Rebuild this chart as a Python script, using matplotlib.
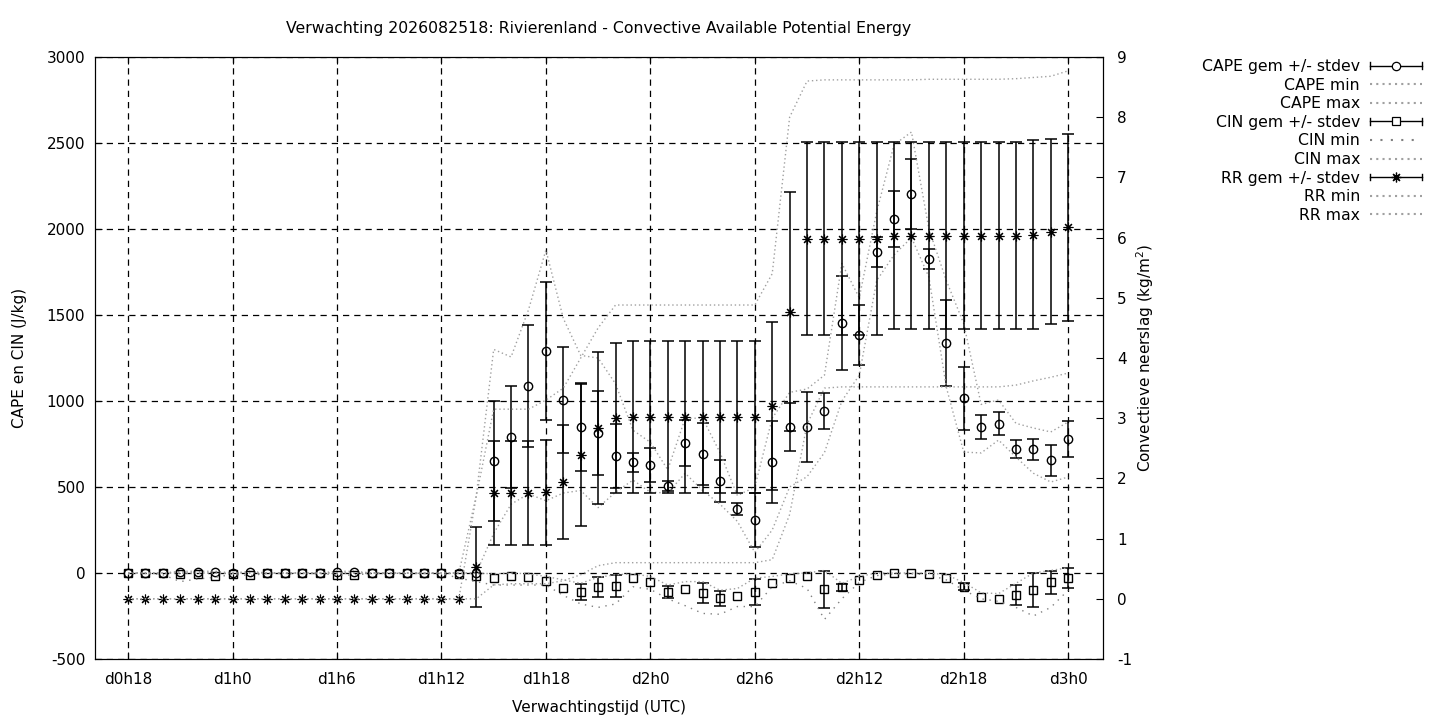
import numpy as np
import matplotlib
matplotlib.use("Agg")
import matplotlib.pyplot as plt
from matplotlib.lines import Line2D
from matplotlib.legend_handler import HandlerBase

# forecast hours since d0h18
hours = np.arange(55)
tick_hours = [0, 6, 12, 18, 24, 30, 36, 42, 48, 54]
tick_names = ["d0h18", "d1h0", "d1h6", "d1h12", "d1h18", "d2h0", "d2h6", "d2h12", "d2h18", "d3h0"]

cape_mean = [0, 0, 0, 5, 5, 5, 0, 5, 0, 0, 0, 0, 5, 5, 0, 0, 0, 0, 0, 0,
             0, 650, 790, 1087, 1291, 1006, 849, 814, 680, 645, 628, 506, 756, 692, 535,
             372, 308, 645, 849, 849, 942, 1453, 1384, 1866, 2058, 2204, 1826, 1336, 1016,
             847, 869, 719, 719, 655, 777]
cape_sd = [0, 0, 0, 0, 0, 0, 0, 0, 0, 0, 0, 0, 0, 0, 0, 0, 0, 0, 0, 0,
           0, 350, 297, 355, 400, 308, 258, 245, 186, 55, 100, 30, 135, 183, 120,
           37, 155, 238, 137, 206, 103, 275, 174, 87, 163, 203, 58, 250, 182,
           69, 66, 53, 62, 90, 104]
cape_min = [0, 0, 0, 0, 0, 0, 0, 0, 0, 0, 0, 0, 0, 0, 0, 0, 0, 0, 0, 0,
            0, 230, 400, 460, 420, 465, 480, 380, 470, 540, 470, 465, 580, 480, 400,
            300, 120, 250, 500, 560, 700, 1000, 1150, 1700, 1850, 1950, 1720, 1080, 703,
            698, 773, 674, 580, 529, 558]
cape_max = [0, 0, 0, 10, 10, 10, 0, 10, 0, 0, 0, 0, 10, 10, 0, 0, 0, 0, 0, 0,
            450, 1300, 1256, 1530, 1878, 1480, 1265, 1250, 1100, 830, 760, 600, 900, 900, 700,
            450, 500, 900, 1050, 1070, 1150, 1800, 1600, 2100, 2490, 2564, 2000, 1700, 1450,
            980, 1006, 870, 843, 820, 878]

cin_mean = [-2, -2, -2, -8, -6, -16, -8, -12, -2, -2, -2, -2, -10, -10, -2, -2, -2, -2, -2, -6,
            -17, -29, -17, -25, -48, -89, -112, -83, -76, -31, -54, -112, -95, -118, -147,
            -134, -112, -60, -31, -17, -95, -83, -41, -12, -2, -2, -8, -31, -80,
            -141, -153, -128, -99, -54, -31]
cin_sd = [0, 0, 0, 0, 0, 0, 0, 0, 0, 0, 0, 0, 0, 0, 0, 0, 0, 0, 0, 0,
          0, 0, 0, 0, 0, 0, 47, 58, 65, 0, 0, 35, 0, 58, 42,
          0, 75, 0, 0, 0, 107, 20, 0, 0, 0, 0, 0, 0, 20,
          0, 0, 58, 99, 68, 58]
cin_min = [-2, -2, -10, -50, -35, -25, -8, -15, -2, -2, -2, -2, -12, -12, -2, -2, -2, -2, -2, -30,
           -50, -70, -70, -70, -70, -130, -180, -200, -180, -80, -95, -150, -190, -235, -240,
           -195, -195, -80, -45, -90, -270, -150, -55, -15, -5, -5, -10, -40, -100,
           -150, -165, -200, -250, -200, -100]
cin_max = [0, 0, 0, 0, 0, 0, 0, 0, 0, 0, 0, 0, 0, 0, 0, 0, 0, 0, 0, 0,
           0, -5, 0, -5, -20, -40, -60, -25, -10, -5, -20, -70, -50, -50, -100,
           -90, -30, -20, -5, 0, 15, -60, -20, 0, 0, 0, 0, -10, -55,
           -115, -120, -60, 0, 15, 30]

rr_mean = [0, 0, 0, 0, 0, 0, 0, 0, 0, 0, 0, 0, 0, 0, 0, 0, 0, 0, 0, 0,
           0.53, 1.76, 1.76, 1.76, 1.77, 1.94, 2.39, 2.84, 3.0, 3.02, 3.02, 3.02, 3.02, 3.02, 3.02,
           3.02, 3.02, 3.2, 4.77, 5.98, 5.98, 5.98, 5.98, 5.98, 6.03, 6.03, 6.03, 6.03, 6.03,
           6.03, 6.03, 6.03, 6.05, 6.1, 6.17]
rr_sd = [0, 0, 0, 0, 0, 0, 0, 0, 0, 0, 0, 0, 0, 0, 0, 0, 0, 0, 0, 0,
         0.66, 0.86, 0.86, 0.86, 0.87, 0.95, 1.18, 1.26, 1.25, 1.26, 1.26, 1.26, 1.26, 1.26, 1.26,
         1.26, 1.26, 1.4, 1.98, 1.6, 1.6, 1.6, 1.6, 1.6, 1.55, 1.55, 1.55, 1.55, 1.55,
         1.55, 1.55, 1.55, 1.57, 1.54, 1.55]
rr_min = [0, 0, 0, 0, 0, 0, 0, 0, 0, 0, 0, 0, 0, 0, 0, 0, 0, 0, 0, 0,
          0, 0.23, 0.25, 0.25, 0.25, 0.3, 0.4, 0.55, 0.6, 0.6, 0.6, 0.6, 0.6, 0.6, 0.6,
          0.6, 0.6, 0.65, 1.4, 2.9, 3.5, 3.52, 3.52, 3.52, 3.52, 3.52, 3.52, 3.52, 3.52,
          3.52, 3.52, 3.55, 3.62, 3.68, 3.75]
rr_max = [0, 0, 0, 0, 0, 0, 0, 0, 0, 0, 0, 0, 0, 0, 0, 0, 0, 0, 0, 0,
          1.7, 3.15, 3.15, 3.15, 3.3, 3.5, 4.0, 4.5, 4.88, 4.88, 4.88, 4.88, 4.88, 4.88, 4.88,
          4.88, 4.88, 5.4, 8.0, 8.6, 8.62, 8.62, 8.62, 8.62, 8.62, 8.62, 8.63, 8.63, 8.63,
          8.63, 8.63, 8.64, 8.66, 8.68, 8.77]

DOT = (0, (1, 2))
GREY = "#a0a0a0"


class HandlerErrbar(HandlerBase):
    # gnuplot style key sample: |--o--|
    def create_artists(self, legend, orig_handle, xdescent, ydescent,
                       width, height, fontsize, trans):
        y = height / 2 - ydescent
        x0, x1 = -xdescent, width - xdescent
        cap = height * 0.3
        parts = [
            Line2D([x0, x1], [y, y], color="black", lw=1),
            Line2D([x0, x0], [y - cap, y + cap], color="black", lw=1),
            Line2D([x1, x1], [y - cap, y + cap], color="black", lw=1),
            Line2D([(x0 + x1) / 2], [y], ls="none", marker=orig_handle.get_marker(),
                   ms=orig_handle.get_markersize(), mfc="white", mec="black", mew=0.9),
        ]
        for p in parts:
            p.set_transform(trans)
        return parts


def draw_mean(ax, mean, sd, marker, ms, mew=1):
    mean = np.array(mean)
    sd = np.array(sd)
    has = sd > 0
    ax.errorbar(hours[has], mean[has], yerr=sd[has], fmt="none", ecolor="black",
                elinewidth=1.1, capsize=4.2, capthick=1.1)
    ax.plot(hours, mean, ls="none", marker=marker, ms=ms, mfc="none", mec="black", mew=mew)


plt.rcParams["font.family"] = ["DejaVu Sans"]
plt.rcParams["font.size"] = 11
plt.rcParams["axes.unicode_minus"] = False

fig = plt.figure(figsize=(14.4, 7.2), dpi=100)
ax = fig.add_axes([95 / 1440, 1 - 659 / 720, 1008 / 1440, 602 / 720])
ax2 = ax.twinx()

draw_mean(ax, cape_mean, cape_sd, "o", 6)
ax.plot(hours, cape_min, ls=DOT, color=GREY, lw=1)
ax.plot(hours, cape_max, ls=DOT, color=GREY, lw=1)
draw_mean(ax, cin_mean, cin_sd, "s", 6.3)
ax.plot(hours, cin_min, ls=(0, (1, 4)), color="#808080", lw=1)
ax.plot(hours, cin_max, ls=DOT, color=GREY, lw=1)
draw_mean(ax2, rr_mean, rr_sd, (8, 2, 0), 7, mew=0.8)
ax2.plot(hours, rr_min, ls=DOT, color=GREY, lw=1)
ax2.plot(hours, rr_max, ls=DOT, color=GREY, lw=1)

ax.set_xlim(-1.9, 56)
ax.set_ylim(-500, 3000)
ax2.set_ylim(-1, 9)
ax.set_xticks(tick_hours)
ax.set_xticklabels(tick_names)
ax.set_yticks(np.arange(-500, 3001, 500))
ax2.set_yticks(np.arange(-1, 10, 1))
ax.grid(True, color="black", lw=0.9, ls=(0, (5, 4)))
ax.tick_params(direction="in", length=5, top=True, right=False)
ax.tick_params(axis="x", pad=9)
ax.tick_params(axis="y", pad=7)
ax2.tick_params(direction="in", length=5, pad=10)

ax.set_title("Verwachting 2026082518: Rivierenland - Convective Available Potential Energy",
             fontsize=11.3, pad=17)
ax.set_xlabel("Verwachtingstijd (UTC)", labelpad=10)
ax.set_ylabel("CAPE en CIN (J/kg)", labelpad=14)
ax2.set_ylabel("Convectieve neerslag (kg/m$^2$)", labelpad=2)

# key, outside the plot on the right
err = HandlerErrbar()
handles = [
    Line2D([], [], marker="o", ms=6), Line2D([], [], ls=DOT, color=GREY),
    Line2D([], [], ls=DOT, color=GREY),
    Line2D([], [], marker="s", ms=6.3), Line2D([], [], ls=(0, (1, 4)), color="#808080"),
    Line2D([], [], ls=DOT, color=GREY),
    Line2D([], [], marker=(8, 2, 0), ms=7), Line2D([], [], ls=DOT, color=GREY),
    Line2D([], [], ls=DOT, color=GREY),
]
labels = ["CAPE gem +/- stdev", "CAPE min", "CAPE max",
          "CIN gem +/- stdev", "CIN min", "CIN max",
          "RR gem +/- stdev", "RR min", "RR max"]
hmap = {handles[0]: err, handles[3]: err, handles[6]: err}
fig.legend(handles, labels, handler_map=hmap, loc="upper right",
           bbox_to_anchor=(1422 / 1440, 1 - 59 / 720), frameon=False,
           markerfirst=False, handlelength=3.3, handletextpad=0.65,
           labelspacing=0.23, borderpad=0, borderaxespad=0, fontsize=11.3)

fig.savefig("out.png", dpi=100)
